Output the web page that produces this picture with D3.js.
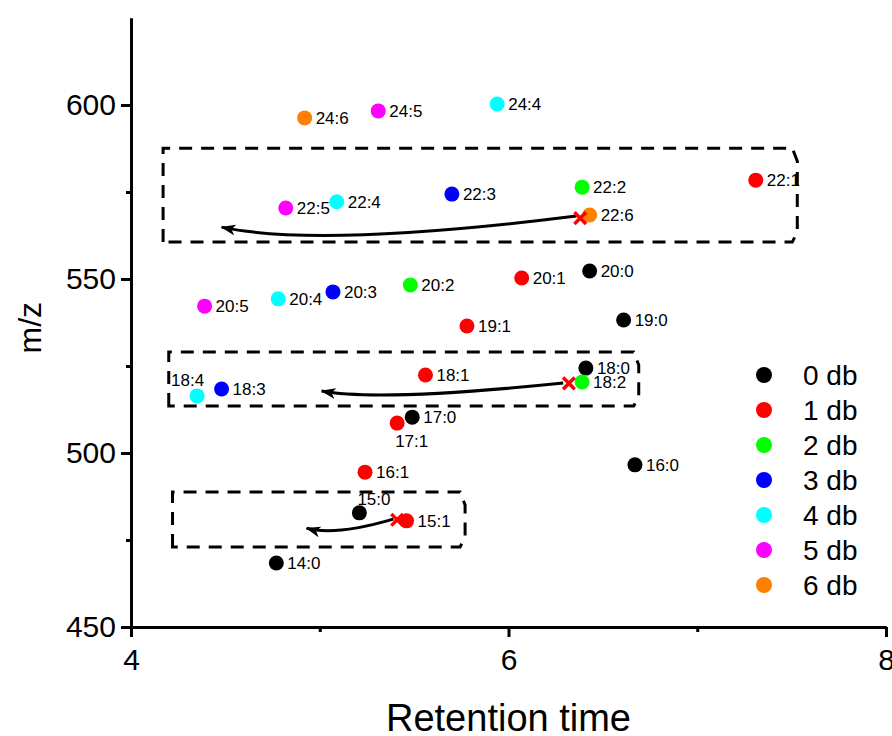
<!DOCTYPE html>
<html>
<head>
<meta charset="utf-8">
<script src="https://cdn.jsdelivr.net/npm/d3@7"></script>
<style>
  body { margin: 0; background: #fff; }
  svg { font-family: "Liberation Sans", Arial, sans-serif; display: block; }
</style>
</head>
<body>
<svg></svg>
<script>
/* data */
var labels = ["24:6", "24:5", "24:4", "22:1", "22:2", "22:6", "22:3", "22:4", "22:5",
              "20:0", "20:1", "20:2", "20:3", "20:4", "20:5", "19:0", "19:1",
              "18:0", "18:2", "18:1", "18:3", "18:4", "17:0", "17:1",
              "16:0", "16:1", "15:0", "15:1", "14:0"];
var rtimes = [4.92, 5.31, 5.94, 7.31, 6.39, 6.43, 5.70, 5.09, 4.82,
              6.43, 6.07, 5.48, 5.07, 4.78, 4.39, 6.61, 5.78,
              6.41, 6.39, 5.56, 4.48, 4.35, 5.49, 5.41,
              6.67, 5.24, 5.21, 5.46, 4.77];
var mzs = [596.3, 598.3, 600.3, 578.4, 576.4, 568.4, 574.4, 572.2, 570.4,
           552.3, 550.3, 548.3, 546.3, 544.3, 542.2, 538.2, 536.5,
           524.4, 520.4, 522.4, 518.4, 516.4, 510.3, 508.6,
           496.6, 494.5, 482.8, 480.5, 468.4];
var dbs = [6, 5, 4, 1, 2, 6, 3, 4, 5,
           0, 1, 2, 3, 4, 5, 0, 1,
           0, 2, 1, 3, 4, 0, 1,
           0, 1, 0, 1, 0];

var legendNames = ["0 db", "1 db", "2 db", "3 db", "4 db", "5 db", "6 db"];
var colors = ["#000000", "#ff0000", "#00ff00", "#0000ff", "#00ffff", "#ff00ff", "#ff8000"];

// red crosses (start of each shift arrow)
var crossRt = [6.38, 6.32, 5.41];
var crossMz = [567.5, 520.0, 480.8];

// dashed boxes: [rt left, rt right, mz top, mz bottom]
var boxes = [
  [4.17, 7.53, 587.6, 560.6],
  [4.20, 6.69, 529.0, 513.5],
  [4.22, 5.77, 488.8, 473.0]
];

// curved arrows: start, control, end in data units
var arrows = [
  [[6.36, 568.1], [5.00, 558.9], [4.48, 564.9]],
  [[6.29, 520.1], [5.32, 514.7], [5.01, 517.8]],
  [[5.39, 481.0], [5.08, 476.1], [4.93, 478.4]]
];

var xTicks = [4, 6, 8];
var xMinor = [5, 7];
var yTicks = [450, 500, 550, 600];
var yMinor = [475, 525, 575];

/* where some labels sit instead of right of the dot */
var labelPlace = {"18:4": "aboveLeft", "17:1": "below", "15:0": "above"};

/* svg setting */
var svgWidth = 892;
var svgHeight = 736;
var margin = {top: 18, right: 6, bottom: 109, left: 131};

var svg = d3.select("svg")
    .attr("width", svgWidth)
    .attr("height", svgHeight);

var scale = {};
scale.x = d3.scaleLinear().domain([4, 8]).range([margin.left, svgWidth - margin.right]);
scale.y = d3.scaleLinear().domain([450, 625]).range([svgHeight - margin.bottom, margin.top]);

/* arrow head */
svg.append("defs").append("marker")
    .attr("id", "head")
    .attr("viewBox", "0 0 15 11")
    .attr("refX", 14)
    .attr("refY", 5.5)
    .attr("markerWidth", 15)
    .attr("markerHeight", 11)
    .attr("markerUnits", "userSpaceOnUse")
    .attr("orient", "auto")
  .append("path")
    .attr("d", "M0,0 L15,5.5 L0,11 L4,5.5 Z")
    .attr("fill", "#000");

/* axes */
function styleAxis(g){
  g.selectAll(".domain").attr("stroke-width", 3).attr("stroke", "#000");
  g.selectAll(".tick line").attr("stroke-width", 3).attr("stroke", "#000");
  g.selectAll(".tick text").attr("font-size", 30).attr("fill", "#000")
      .attr("font-family", "Liberation Sans, Arial, sans-serif");
}

var xAxisY = scale.y(450);
svg.append("g")
    .attr("transform", translate(0, xAxisY))
    .call(d3.axisBottom(scale.x).tickValues(xMinor).tickSize(5).tickSizeOuter(0).tickFormat(""))
    .call(styleAxis);
svg.append("g")
    .attr("transform", translate(0, xAxisY))
    .call(d3.axisBottom(scale.x).tickValues(xTicks).tickSize(10).tickSizeOuter(0).tickPadding(12).tickFormat(d3.format("d")))
    .call(styleAxis);

svg.append("g")
    .attr("transform", translate(scale.x(4), 0))
    .call(d3.axisLeft(scale.y).tickValues(yMinor).tickSize(5).tickSizeOuter(0).tickFormat(""))
    .call(styleAxis);
svg.append("g")
    .attr("transform", translate(scale.x(4), 0))
    .call(d3.axisLeft(scale.y).tickValues(yTicks).tickSize(10).tickSizeOuter(0).tickPadding(5).tickFormat(d3.format("d")))
    .call(styleAxis);

svg.append("text")
    .attr("x", scale.x(6))
    .attr("y", 731)
    .attr("text-anchor", "middle")
    .attr("font-size", 38)
    .text("Retention time");

svg.append("text")
    .attr("transform", translate(41, scale.y(536)) + " rotate(-90)")
    .attr("text-anchor", "middle")
    .attr("font-size", 32)
    .text("m/z");

/* dashed boxes with cut right corners */
svg.append("g").selectAll("path")
    .data(boxes)
    .enter()
    .append("path")
    .attr("d", function(b){
      var l = scale.x(b[0]), r = scale.x(b[1]), t = scale.y(b[2]), bt = scale.y(b[3]);
      return "M" + l + "," + bt + " V" + t + " H" + (r - 5) + " L" + r + "," + (t + 13) +
             " V" + (bt - 10) + " L" + (r - 5) + "," + bt + " Z";
    })
    .attr("fill", "none")
    .attr("stroke", "#000")
    .attr("stroke-width", 3)
    .attr("stroke-dasharray", "13,9");

/* arrows */
svg.append("g").selectAll("path")
    .data(arrows)
    .enter()
    .append("path")
    .attr("d", function(a){
      var p = d3.path();
      p.moveTo(scale.x(a[0][0]), scale.y(a[0][1]));
      p.quadraticCurveTo(scale.x(a[1][0]), scale.y(a[1][1]), scale.x(a[2][0]), scale.y(a[2][1]));
      return p.toString();
    })
    .attr("fill", "none")
    .attr("stroke", "#000")
    .attr("stroke-width", 3)
    .attr("marker-end", "url(#head)");

/* points */
var pts = labels.map(function(l, i){
  return {label: l, x: rtimes[i], y: mzs[i], db: dbs[i]};
});

var pointG = svg.append("g");
pointG.selectAll("circle")
    .data(pts)
    .enter()
    .append("circle")
    .attr("cx", function(d){ return scale.x(d.x); })
    .attr("cy", function(d){ return scale.y(d.y); })
    .attr("r", 7.5)
    .attr("fill", function(d){ return colors[d.db]; });

pointG.selectAll("text")
    .data(pts)
    .enter()
    .append("text")
    .attr("font-size", 17)
    .attr("x", function(d){
      var p = labelPlace[d.label];
      if(p == "aboveLeft") return scale.x(d.x) - 26;
      if(p == "below" || p == "above") return scale.x(d.x) - 2;
      return scale.x(d.x) + 11;
    })
    .attr("y", function(d){
      var p = labelPlace[d.label];
      if(p == "aboveLeft") return scale.y(d.y) - 10;
      if(p == "below") return scale.y(d.y) + 24;
      if(p == "above") return scale.y(d.y) - 8;
      return scale.y(d.y) + 6;
    })
    .text(function(d){ return d.label; });

/* red crosses */
svg.append("g").selectAll("path")
    .data(crossRt)
    .enter()
    .append("path")
    .attr("transform", function(d, i){ return translate(scale.x(d), scale.y(crossMz[i])); })
    .attr("d", d3.symbol(d3.symbolX, 90))
    .attr("fill", "none")
    .attr("stroke", "#ff0000")
    .attr("stroke-width", 3.5);

/* legend */
var legend = svg.append("g")
    .attr("transform", translate(764, 375));
var rows = legend.selectAll("g")
    .data(legendNames)
    .enter()
    .append("g")
    .attr("transform", function(d, i){ return translate(0, i * 35); });
rows.append("circle")
    .attr("r", 8)
    .attr("fill", function(d, i){ return colors[i]; });
rows.append("text")
    .attr("x", 39)
    .attr("y", 10)
    .attr("font-size", 28)
    .text(function(d){ return d; });

function translate(x, y) {
  return "translate(" + x + "," + y + ")";
}
</script>
</body>
</html>
